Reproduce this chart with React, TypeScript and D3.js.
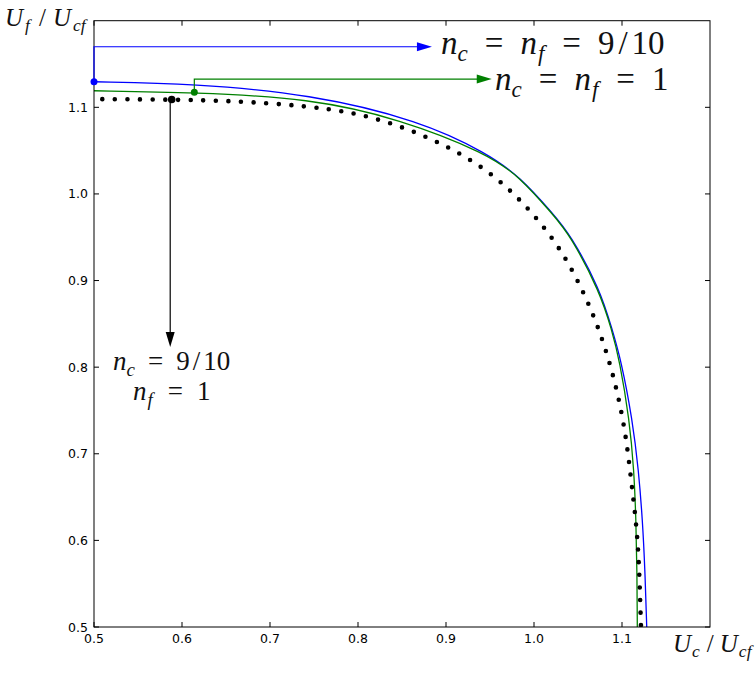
import React from 'react';
import * as d3 from 'd3';

// axis ticks
const xTicks = [0.5, 0.6, 0.7, 0.8, 0.9, 1.0, 1.1];
const yTicks = [0.5, 0.6, 0.7, 0.8, 0.9, 1.0, 1.1];

// blue curve, n_c = n_f = 9/10
const blueX = [0.5, 0.6136, 0.7455, 0.8705, 0.9463, 0.9841, 1.0219, 1.0409, 1.075, 1.089, 1.0989, 1.1119, 1.1188, 1.1233, 1.1261, 1.1281];
const blueY = [1.1295, 1.1272, 1.1153, 1.0847, 1.0472, 1.0199, 0.9768, 0.9537, 0.8902, 0.8429, 0.8082, 0.739, 0.6813, 0.6235, 0.5658, 0.5];

// green curve, n_c = n_f = 1
const greenX = [0.5, 0.614, 0.7455, 0.8477, 0.9463, 0.9841, 1.0219, 1.0409, 1.075, 1.0883, 1.0972, 1.1085, 1.1136, 1.1159, 1.117, 1.1174];
const greenY = [1.1191, 1.1173, 1.1104, 1.0865, 1.0469, 1.0195, 0.9756, 0.9526, 0.8867, 0.8429, 0.8082, 0.739, 0.6813, 0.6235, 0.5658, 0.5];

// dotted black curve, n_c = 9/10, n_f = 1
const dotX = [0.5, 0.5883, 0.6648, 0.7378, 0.7966, 0.8534, 0.9057, 0.9534, 0.9935, 1.0284, 1.0557, 1.0767, 1.0928, 1.1042, 1.1106, 1.1159, 1.119, 1.1205, 1.1216];
const dotY = [1.1095, 1.109, 1.1072, 1.1018, 1.0942, 1.0769, 1.0533, 1.0233, 0.9841, 0.9402, 0.8891, 0.8371, 0.7813, 0.7243, 0.6674, 0.6227, 0.5805, 0.5366, 0.5];

const width = 756;
const height = 685;
const serif = 'Liberation Serif';

// segs: t = text, i = italic, sub = subscript, pad = extra room on both sides
const MathText = ({ x, y, size, anchor = 'start', segs }) => {
  let prevSub = false;
  let carry = 0;
  const shift = size * 0.21;
  return (
    <text x={x} y={y} textAnchor={anchor} fill="#111" fontFamily={serif} fontSize={size}>
      {segs.map((s, i) => {
        let dy = 0;
        if (s.sub && !prevSub) dy = shift;
        else if (!s.sub && prevSub) dy = -shift;
        prevSub = !!s.sub;
        const dx = carry + (s.pad || 0);
        carry = s.pad || 0;
        return (
          <tspan key={i} dx={dx} dy={dy} fontFamily={serif}
            fontSize={s.sub ? size * 0.7 : size} fontStyle={s.i ? 'italic' : 'normal'}>
            {s.t}
          </tspan>
        );
      })}
    </text>
  );
};

export default function App() {
  const x = d3.scaleLinear().domain([0.5, 1.2]).range([94, 710]);
  const y = d3.scaleLinear().domain([0.5, 1.2]).range([627, 20.7]);

  const line = d3.line().x((d) => x(d[0])).y((d) => y(d[1])).curve(d3.curveBasis);
  const blue = line(blueX.map((v, i) => [v, blueY[i]]));
  const green = line(greenX.map((v, i) => [v, greenY[i]]));
  const dotted = line(dotX.map((v, i) => [v, dotY[i]]));

  const [x0, x1] = x.range();
  const [y0, y1] = y.range();

  // annotation anchors in data units
  const bluePt = [0.5, 1.1295];
  const blueCornerY = 1.1699;
  const blueTipX = 0.884;
  const greenPt = [0.614, 1.1173];
  const greenCornerY = 1.1326;
  const greenTipX = 0.952;
  const blackPt = [0.5883, 1.109];
  const blackTipY = 0.8232;

  const arrowRight = (tx, ty, c) => (
    <polygon points={`${tx},${ty} ${tx - 15},${ty - 4.5} ${tx - 15},${ty + 4.5}`} fill={c} />
  );

  const eq = (p) => ({ t: '=', pad: p });

  return (
    <svg width={width} height={height} style={{ position: 'absolute', left: 0, top: 0, background: '#fff' }}>
      <defs>
        <clipPath id="plot">
          <rect x={x0} y={y1} width={x1 - x0} height={y0 - y1} />
        </clipPath>
      </defs>

      {/* curves */}
      <g clipPath="url(#plot)" fill="none">
        <path d={blue} stroke="#0000ff" strokeWidth={1.3} />
        <path d={green} stroke="#008000" strokeWidth={1.3} />
        <path d={dotted} stroke="#000" strokeWidth={4.6} strokeLinecap="round"
          strokeDasharray="0 12.6" strokeDashoffset={4.3} />
      </g>

      {/* frame and inward ticks */}
      <rect x={x0} y={y1} width={x1 - x0} height={y0 - y1} fill="none" stroke="#000" strokeWidth={1} />
      {xTicks.map((t) => (
        <g key={`xt${t}`} stroke="#000">
          <line x1={x(t)} x2={x(t)} y1={y0} y2={y0 - 5} />
          <line x1={x(t)} x2={x(t)} y1={y1} y2={y1 + 5} />
        </g>
      ))}
      {yTicks.map((t) => (
        <g key={`yt${t}`} stroke="#000">
          <line x1={x0} x2={x0 + 5} y1={y(t)} y2={y(t)} />
          <line x1={x1} x2={x1 - 5} y1={y(t)} y2={y(t)} />
        </g>
      ))}
      <g fontFamily="DejaVu Sans, sans-serif" fontSize={12.5} fill="#000">
        {xTicks.map((t) => (
          <text key={`xl${t}`} x={x(t)} y={y0 + 16} textAnchor="middle">{d3.format('.1f')(t)}</text>
        ))}
        {yTicks.map((t) => (
          <text key={`yl${t}`} x={x0 - 6} y={y(t) + 4.5} textAnchor="end">{d3.format('.1f')(t)}</text>
        ))}
      </g>

      {/* axis labels */}
      <MathText x={5} y={26} size={25}
        segs={[{ t: 'U', i: true }, { t: 'f', i: true, sub: true, pad: 2 }, { t: '/', pad: 7 }, { t: 'U', i: true }, { t: 'cf', i: true, sub: true, pad: 2 }]} />
      <MathText x={673} y={652} size={25}
        segs={[{ t: 'U', i: true }, { t: 'c', i: true, sub: true, pad: 1 }, { t: '/', pad: 6 }, { t: 'U', i: true }, { t: 'cf', i: true, sub: true, pad: 1 }]} />

      {/* blue annotation */}
      <g stroke="#0000ff" strokeWidth={1.2} fill="none">
        <polyline points={`${x(bluePt[0])},${y(bluePt[1])} ${x(bluePt[0])},${y(blueCornerY)} ${x(blueTipX) - 12},${y(blueCornerY)}`} />
      </g>
      {arrowRight(x(blueTipX), y(blueCornerY), '#0000ff')}
      <circle cx={x(bluePt[0])} cy={y(bluePt[1])} r={3.5} fill="#0000ff" />
      <MathText x={441} y={54} size={33}
        segs={[{ t: 'n', i: true }, { t: 'c', i: true, sub: true }, eq(17), { t: 'n', i: true }, { t: 'f', i: true, sub: true, pad: 1 }, eq(17), { t: '9' }, { t: '/', pad: 4 }, { t: '10' }]} />

      {/* green annotation */}
      <g stroke="#008000" strokeWidth={1.2} fill="none">
        <polyline points={`${x(greenPt[0])},${y(greenPt[1])} ${x(greenPt[0])},${y(greenCornerY)} ${x(greenTipX) - 12},${y(greenCornerY)}`} />
      </g>
      {arrowRight(x(greenTipX), y(greenCornerY), '#008000')}
      <circle cx={x(greenPt[0])} cy={y(greenPt[1])} r={3.5} fill="#008000" />
      <MathText x={495} y={90} size={33}
        segs={[{ t: 'n', i: true }, { t: 'c', i: true, sub: true }, eq(17), { t: 'n', i: true }, { t: 'f', i: true, sub: true, pad: 1 }, eq(17), { t: '1' }]} />

      {/* black annotation */}
      <line x1={x(blackPt[0]) - 1.5} x2={x(blackPt[0]) - 1.5} y1={y(blackPt[1])} y2={y(blackTipY) - 12} stroke="#000" strokeWidth={1.2} />
      <polygon
        points={`${x(blackPt[0]) - 1.5},${y(blackTipY)} ${x(blackPt[0]) - 6},${y(blackTipY) - 15} ${x(blackPt[0]) + 3},${y(blackTipY) - 15}`}
        fill="#000" />
      <circle cx={x(blackPt[0])} cy={y(blackPt[1])} r={3.8} fill="#000" />
      <MathText x={113} y={370} size={27}
        segs={[{ t: 'n', i: true }, { t: 'c', i: true, sub: true }, eq(13), { t: '9' }, { t: '/', pad: 3 }, { t: '10' }]} />
      <MathText x={133} y={400} size={27}
        segs={[{ t: 'n', i: true }, { t: 'f', i: true, sub: true, pad: 1 }, eq(14), { t: '1' }]} />
    </svg>
  );
}
